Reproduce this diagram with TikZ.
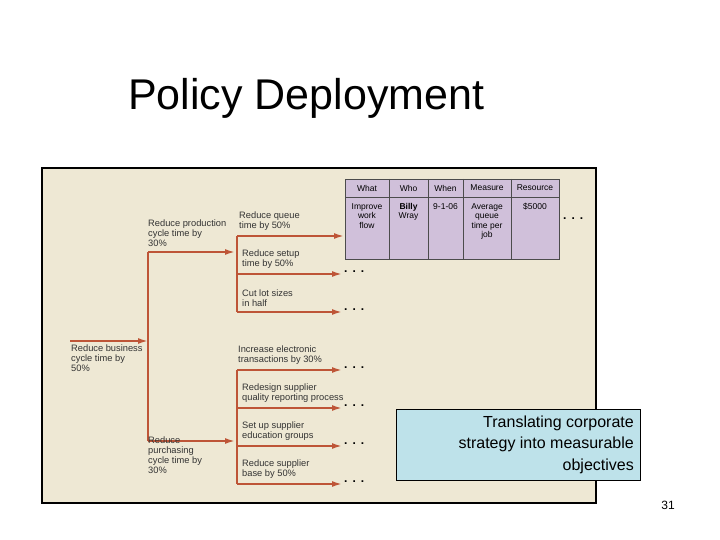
\documentclass[tikz,border=0pt]{standalone}
\usepackage{fontspec}
\setmainfont{Liberation Sans}
\usetikzlibrary{arrows.meta}
\definecolor{bg}{RGB}{238,232,212}
\definecolor{arr}{RGB}{190,85,55}
\definecolor{tab}{RGB}{208,192,218}
\definecolor{blu}{RGB}{190,226,234}
\begin{document}
\begin{tikzpicture}[x=1pt,y=-1pt,
 ln/.style={arr,line width=1.8pt},
 ar/.style={arr,line width=1.8pt,-{Latex[length=10pt,width=6pt]}},
 lab/.style={font=\fontsize{9.3}{10}\selectfont,align=left,anchor=south west,inner sep=1pt,text=black!80},
 dots/.style={font=\bfseries\fontsize{12}{12}\selectfont,anchor=west,inner sep=0pt},
 cell/.style={font=\fontsize{8.5}{9.5}\selectfont,align=center,anchor=north,inner sep=1pt}]
\useasboundingbox (0,0) rectangle (720,540);
\fill[white] (0,0) rectangle (720,540);
\node[anchor=west,font=\fontsize{43}{46}\selectfont,inner sep=0pt] (title) at (128,98) {Policy Deployment};
\draw[fill=bg,line width=1.5pt] (42,168) rectangle (596,503);
% table
\fill[tab] (345,179) rectangle (559,259);
\draw[line width=0.8pt,black!70] (345,179) rectangle (559,259) (345,197) -- (559,197);
\foreach \x in {389,428,463,511} \draw[black!70,line width=0.6pt] (\x,179) -- (\x,259);
\foreach \t/\x in {What/367,Who/408.5,When/445.5,Measure/487,Resource/535}
  \node[cell,anchor=center] at (\x,188) {\t};
\node[cell] at (367,202) {Improve\\work\\flow};
\node[cell] at (408.5,202) {\bfseries Billy\\Wray};
\node[cell] at (445.5,202) {9-1-06};
\node[cell] at (487,202) {Average\\queue\\time per\\job};
\node[cell] at (535,202) {\$5000};
\node[dots] at (563,219) {.\hspace{5pt}.\hspace{5pt}.};
% tree
\coordinate (m0) at (70,341); \coordinate (m1) at (148,341);
\coordinate (t0) at (148,252); \coordinate (t1) at (235,252);
\coordinate (b0) at (148,441); \coordinate (b1) at (235,441);
\draw[ar] (m0) -- (m1);
\draw[ln] (t0) -- (b0);
\draw[ar] (t0) -- (t1);
\draw[ar] (b0) -- (b1);
\draw[ln] (237,236) -- (237,312);
\draw[ln] (237,370) -- (237,484);
\foreach \y/\e in {236/344,274/342,312/342,370/342,408/342,446/342,484/342}
  \draw[ar] (237,\y) -- (\e,\y);
\foreach \y in {274,312,370,408,446,484} \node[dots] at (344,\y-2) {.\hspace{5pt}.\hspace{5pt}.};
\node[lab,anchor=north west] (l0) at (70,344) {Reduce business\\cycle time by\\50\%};
\node[lab] (l1) at (147,248) {Reduce production\\cycle time by\\30\%};
\node[lab,anchor=north west] (l2) at (147,436) {Reduce\\purchasing\\cycle time by\\30\%};
\node[lab] at (238,232) {Reduce queue\\time by 50\%};
\node[lab] at (241,270) {Reduce setup\\time by 50\%};
\node[lab] at (241,308) {Cut lot sizes\\in half};
\node[lab] at (237,366) {Increase electronic\\transactions by 30\%};
\node[lab] at (241,404) {Redesign supplier\\quality reporting process};
\node[lab] at (241,442) {Set up supplier\\education groups};
\node[lab] at (241,480) {Reduce supplier\\base by 50\%};
% blue box
\draw[fill=blu,line width=0.6pt] (396,409) rectangle (640,480);
\node[align=right,anchor=east,font=\fontsize{16}{21.5}\selectfont,inner sep=0pt] (bx) at (634,444.5) {Translating corporate\\strategy into measurable\\objectives};
\node[font=\fontsize{12}{12}\selectfont] (pg) at (668,505) {31};
\end{tikzpicture}
\end{document}
